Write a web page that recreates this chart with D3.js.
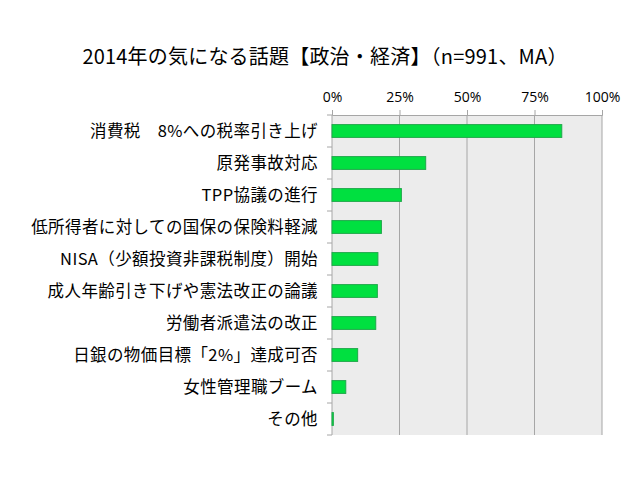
<!DOCTYPE html>
<html>
<head>
<meta charset="utf-8">
<script src="https://d3js.org/d3.v7.min.js"></script>
<style>
  body { margin: 0; background: #fff; }
  text { fill: #000; }
</style>
</head>
<body>
<div id="chart"></div>
<script>
// DATA
var categories = [
  "消費税　8%への税率引き上げ",
  "原発事故対応",
  "TPP協議の進行",
  "低所得者に対しての国保の保険料軽減",
  "NISA（少額投資非課税制度）開始",
  "成人年齢引き下げや憲法改正の論議",
  "労働者派遣法の改正",
  "日銀の物価目標「2%」達成可否",
  "女性管理職ブーム",
  "その他"
];
var values = [85.1, 34.7, 25.7, 18.3, 17.0, 16.8, 16.2, 9.5, 5.1, 0.5];
var tickValues = [0, 25, 50, 75, 100];
var title = "2014年の気になる話題【政治・経済】（n=991、MA）";

var width = 640, height = 480;
var margin = { top: 115, right: 38, bottom: 45, left: 332 };
var plotW = width - margin.left - margin.right;
var plotH = height - margin.top - margin.bottom;

var svg = d3.select("#chart").append("svg")
  .attr("width", width)
  .attr("height", height);

svg.append("text")
  .attr("x", 325)
  .attr("y", 64)
  .attr("text-anchor", "middle")
  .style("font-family", "'Noto Sans CJK JP', sans-serif")
  .style("font-size", "20px")
  .style("letter-spacing", "0.2px")
  .text(title);

var x = d3.scaleLinear().domain([0, 100]).range([0, plotW]);
var y = d3.scaleBand().domain(categories).range([0, plotH]).paddingInner(0.6).paddingOuter(0.3);
var yEdge = d3.scaleLinear().domain([0, categories.length]).range([0, plotH]);

var g = svg.append("g").attr("transform", "translate(" + margin.left + "," + margin.top + ")");

// plot background
g.append("rect")
  .attr("width", plotW)
  .attr("height", plotH)
  .attr("fill", "#ececec");

// gridlines
g.selectAll(".grid")
  .data(tickValues.slice(1))
  .enter().append("line")
  .attr("x1", function(d) { return x(d); })
  .attr("x2", function(d) { return x(d); })
  .attr("y1", 0)
  .attr("y2", plotH)
  .attr("stroke", "#a6a6a6")
  .attr("stroke-width", 1);

// top axis
var xAxis = d3.axisTop(x)
  .tickValues(tickValues)
  .tickSize(5)
  .tickPadding(8)
  .tickFormat(function(d) { return d + "%"; });
var xg = g.append("g").call(xAxis);
xg.select(".domain").attr("stroke", "#a6a6a6");
xg.selectAll(".tick line").attr("stroke", "#a6a6a6");
xg.selectAll("text")
  .style("font-family", "'Open Sans', sans-serif")
  .style("font-size", "14px")
  .attr("fill", "#000");

// left axis line + boundary ticks
g.append("line")
  .attr("x1", 0).attr("x2", 0)
  .attr("y1", 0).attr("y2", plotH)
  .attr("stroke", "#a6a6a6");
g.selectAll(".ytick")
  .data(d3.range(categories.length + 1))
  .enter().append("line")
  .attr("x1", -5).attr("x2", 0)
  .attr("y1", function(d) { return yEdge(d); })
  .attr("y2", function(d) { return yEdge(d); })
  .attr("stroke", "#a6a6a6");

// category labels
g.selectAll(".label")
  .data(categories)
  .enter().append("text")
  .attr("x", -14)
  .attr("y", function(d) { return y(d) + y.bandwidth() / 2; })
  .attr("dy", "0.35em")
  .attr("text-anchor", "end")
  .style("font-family", "'Noto Sans CJK JP', sans-serif")
  .style("font-size", "16.5px")
  .style("letter-spacing", "0.4px")
  .text(function(d) { return d; });

// bars
g.selectAll(".bar")
  .data(values)
  .enter().append("rect")
  .attr("x", 0)
  .attr("y", function(d, i) { return y(categories[i]); })
  .attr("width", function(d) { return x(d); })
  .attr("height", y.bandwidth())
  .attr("fill", "#00e040")
  .attr("stroke", "#1fa84a")
  .attr("stroke-width", 1);
</script>
</body>
</html>
